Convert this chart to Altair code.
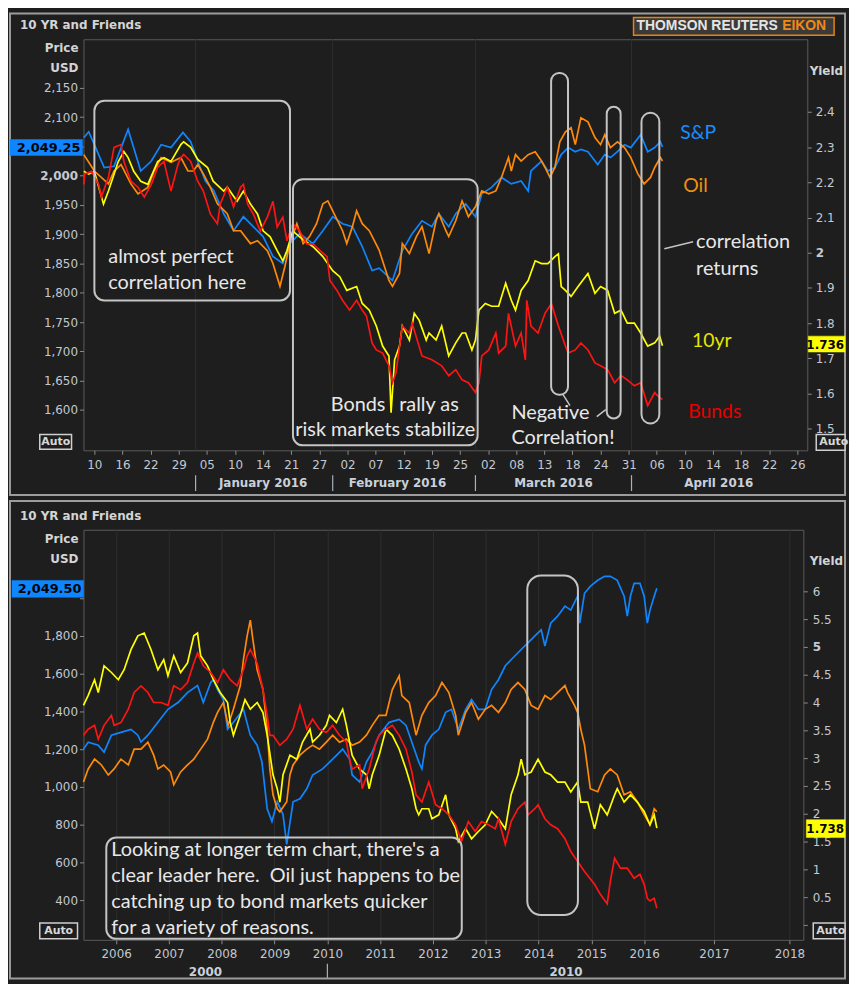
import altair as alt
import pandas as pd

# ---------------- Panel 1: Dec 2015 - Apr 2016 (x = trading-day index, 0 = 10 Dec) ----------------
p1_day_labels = ['10', '16', '22', '29', '05', '10', '14', '21', '27', '02', '07', '12', '19',
                 '25', '02', '08', '13', '18', '24', '31', '06', '10', '14', '18', '22', '26']
p1_month_labels = ['January 2016', 'February 2016', 'March 2016', 'April 2016']
p1_month_pos = [24.0, 43.1, 65.3, 88.8]
p1_month_sep = [14.4, 33.9, 54.2, 76.4]
p1_price_ticks = [1600, 1650, 1700, 1750, 1800, 1850, 1900, 1950, 2000, 2050, 2100, 2150]
p1_yield_ticks = [1.5, 1.6, 1.7, 1.8, 1.9, 2.0, 2.1, 2.2, 2.3, 2.4]

p1_spx_x = [-1.5, -0.8, 0.0, 1.4, 2.8, 4.8, 6.6, 8.1, 9.5, 10.9, 12.6, 13.7, 14.7, 15.8, 17.0,
            18.4, 19.8, 21.2, 22.6, 24.0, 25.4, 26.8, 27.8, 29.2, 31.1, 32.5, 33.9, 35.3, 36.7,
            38.1, 39.5, 40.5, 42.4, 43.8, 45.2, 46.6, 48.0, 49.0, 50.4, 51.4, 52.8, 54.2, 55.1,
            56.5, 57.9, 59.3, 60.7, 61.7, 62.1, 63.6, 64.5, 65.5, 66.4, 67.4, 68.4, 69.2, 70.2,
            71.6, 72.6, 73.4, 74.4, 75.4, 76.3, 77.7, 78.7, 79.7, 80.5, 80.8]
p1_spx = [2065, 2075, 2053, 2014, 2016, 2079, 2008, 2025, 2053, 2048, 2074, 2058, 2025, 1991, 1974,
          1935, 1906, 1930, 1913, 1896, 1862, 1850, 1884, 1901, 1884, 1906, 1930, 1918, 1913,
          1879, 1838, 1842, 1821, 1872, 1901, 1923, 1913, 1935, 1913, 1935, 1952, 1930, 1969,
          1980, 1997, 1986, 1991, 1974, 2008, 2025, 2008, 2014, 2036, 2048, 2041, 2045, 2041,
          2019, 2036, 2031, 2041, 2053, 2048, 2070, 2041, 2048, 2058, 2049]

p1_oil_x = [-1.5, 0.0, 2.0, 2.8, 3.8, 5.2, 6.2, 7.6, 8.5, 9.5, 10.9, 12.3, 13.3, 14.1, 14.7,
            15.5, 16.5, 17.5, 18.9, 19.8, 20.8, 22.2, 23.2, 24.6, 25.4, 26.4, 27.1, 27.8, 28.8,
            29.7, 30.6, 31.6, 32.5, 33.2, 33.9, 35.3, 35.9, 36.7, 37.3, 38.1, 39.1, 40.5, 41.9,
            42.4, 43.4, 43.8, 44.8, 45.8, 46.6, 47.6, 48.6, 49.0, 50.0, 50.4, 51.4, 52.3, 53.2,
            54.2, 55.1, 56.1, 57.1, 57.9, 58.9, 59.3, 59.9, 60.7, 61.7, 62.7, 63.6, 64.1, 64.8,
            65.5, 66.2, 67.0, 67.8, 68.4, 69.2, 70.2, 71.2, 72.0, 72.6, 73.4, 74.4, 75.4, 76.3,
            77.3, 78.2, 79.1, 79.7, 80.5, 80.8]
p1_oil = [2036, 2008, 1986, 2008, 2019, 1986, 1969, 1980, 2008, 2031, 2023, 2031, 2008, 2008, 2019,
          2003, 1980, 1952, 1935, 1906, 1906, 1884, 1889, 1872, 1850, 1811, 1845, 1884, 1918,
          1884, 1896, 1918, 1952, 1957, 1940, 1906, 1884, 1913, 1940, 1918, 1906, 1873, 1821,
          1811, 1833, 1884, 1867, 1896, 1913, 1867, 1923, 1935, 1906, 1896, 1923, 1957, 1930,
          1947, 1974, 1969, 1974, 1997, 2031, 2008, 2036, 2025, 2036, 2041, 2025, 2014, 1997,
          2014, 2058, 2075, 2082, 2053, 2099, 2092, 2065, 2053, 2070, 2048, 2058, 2048, 2031,
          2003, 1986, 1997, 2014, 2031, 2025]

p1_ust_x = [-1.5, -0.8, 0.0, 1.3, 2.0, 2.8, 3.4, 4.2, 4.8, 5.6,
            6.6, 7.6, 9.0, 9.9, 10.9, 12.3, 12.7, 13.7, 14.7, 16.1,
            16.9, 18.4, 18.9, 20.3, 21.2, 22.2, 23.2, 24.0, 25.0, 26.0,
            26.8, 27.4, 28.2, 29.2, 31.1, 32.5, 33.9, 34.9, 35.9, 37.3,
            38.1, 39.1, 40.1, 41.0, 41.9, 42.2, 42.7, 43.4, 43.8, 44.8,
            45.5, 46.2, 47.2, 47.6, 48.6, 49.4, 50.4, 51.4, 52.3, 52.8,
            53.7, 54.2, 54.7, 55.6, 56.5, 57.5, 58.5, 59.3, 59.9, 60.7,
            61.7, 62.7, 63.6, 64.5, 65.5, 66.0, 66.4, 67.0, 67.8, 68.8,
            70.2, 71.2, 72.0, 73.0, 74.0, 74.9, 75.8, 76.8, 77.7, 78.7,
            79.7, 80.4, 80.8]
p1_ust = [2.231, 2.223, 2.231, 2.138, 2.175, 2.223, 2.259, 2.287, 2.270, 2.231,
          2.203, 2.194, 2.259, 2.270, 2.259, 2.307, 2.315, 2.299, 2.265, 2.242,
          2.203, 2.175, 2.186, 2.146, 2.175, 2.138, 2.110, 2.062, 2.045, 2.006,
          1.977, 2.006, 2.062, 2.045, 2.017, 1.989, 1.949, 1.932, 1.893, 1.904,
          1.856, 1.837, 1.792, 1.735, 1.707, 1.546, 1.696, 1.735, 1.792, 1.752,
          1.828, 1.808, 1.752, 1.772, 1.752, 1.792, 1.707, 1.744, 1.772, 1.772,
          1.724, 1.752, 1.837, 1.856, 1.848, 1.848, 1.913, 1.865, 1.837, 1.893,
          1.921, 1.977, 1.969, 1.969, 1.989, 1.997, 1.904, 1.893, 1.876, 1.904,
          1.941, 1.885, 1.904, 1.893, 1.828, 1.837, 1.800, 1.800, 1.772, 1.735,
          1.744, 1.763, 1.736]

p1_bund_x = [-1.5, -1.4, -0.4, 0.6, 1.0, 2.0, 2.8, 3.8, 4.2, 5.2,
             6.2, 7.1, 8.1, 9.0, 9.9, 10.9, 11.9, 12.3, 12.7, 13.7,
             14.7, 15.5, 16.5, 17.5, 17.9, 18.9, 19.8, 20.8, 21.2, 21.8,
             22.6, 23.6, 24.6, 25.4, 26.0, 26.8, 27.4, 28.2, 29.2, 30.2,
             31.1, 32.1, 33.1, 33.5, 34.5, 35.3, 36.3, 37.3, 38.1, 38.7,
             39.5, 40.1, 41.0, 41.9, 42.4, 42.9, 43.8, 44.8, 45.2, 46.6,
             48.0, 49.4, 50.4, 51.4, 52.3, 53.2, 54.2, 54.7, 55.1, 56.1,
             57.1, 57.5, 58.5, 58.9, 59.9, 60.7, 61.3, 61.5, 62.1, 63.1,
             64.1, 65.0, 66.0, 67.0, 67.4, 68.4, 69.2, 70.2, 71.2, 72.0,
             73.0, 74.0, 74.9, 75.8, 76.8, 77.7, 78.7, 79.7, 80.1, 80.8]
p1_bund = [2.194, 2.223, 2.231, 2.194, 2.158, 2.214, 2.299, 2.307, 2.259, 2.203,
           2.186, 2.158, 2.194, 2.242, 2.259, 2.175, 2.251, 2.270, 2.279, 2.259,
           2.203, 2.175, 2.110, 2.082, 2.138, 2.186, 2.130, 2.186, 2.194, 2.138,
           2.110, 2.062, 2.101, 2.146, 2.073, 2.101, 2.034, 2.082, 2.062, 2.025,
           2.025, 2.006, 1.989, 1.921, 1.893, 1.865, 1.837, 1.865, 1.837, 1.820,
           1.744, 1.724, 1.715, 1.679, 1.631, 1.659, 1.792, 1.772, 1.800, 1.707,
           1.696, 1.679, 1.651, 1.668, 1.639, 1.631, 1.603, 1.631, 1.707, 1.724,
           1.772, 1.715, 1.735, 1.828, 1.735, 1.772, 1.696, 1.865, 1.792, 1.772,
           1.828, 1.856, 1.792, 1.735, 1.715, 1.724, 1.744, 1.724, 1.687, 1.679,
           1.668, 1.631, 1.651, 1.639, 1.622, 1.631, 1.566, 1.603, 1.594, 1.583]

# ---------------- Panel 2: 2005 - 2016 (x = fractional year) ----------------
p2_year_ticks = [2006, 2007, 2008, 2009, 2010, 2011, 2012, 2013, 2014, 2015, 2016, 2017, 2018]
p2_decade_labels = ['2000', '2010']
p2_decade_pos = [2007.69, 2014.52]
p2_decade_sep = [2010.0]
p2_price_ticks = [400, 600, 800, 1000, 1200, 1400, 1600, 1800, 2000]
p2_yield_ticks = [0, 0.5, 1, 1.5, 2, 2.5, 3, 3.5, 4, 4.5, 5, 5.5, 6]

p2_spx_x = [2005.38, 2005.47, 2005.66, 2005.77, 2005.91, 2006.09, 2006.28, 2006.41, 2006.47, 2006.60,
            2006.79, 2006.98, 2007.17, 2007.35, 2007.54, 2007.65, 2007.79, 2007.84, 2007.92, 2008.03,
            2008.11, 2008.22, 2008.41, 2008.54, 2008.67, 2008.76, 2008.86, 2008.95, 2009.05, 2009.16,
            2009.23, 2009.35, 2009.48, 2009.61, 2009.72, 2009.91, 2010.10, 2010.29, 2010.42, 2010.47,
            2010.61, 2010.74, 2010.85, 2010.98, 2011.17, 2011.36, 2011.49, 2011.60, 2011.73, 2011.79,
            2011.86, 2011.98, 2012.11, 2012.24, 2012.35, 2012.48, 2012.62, 2012.73, 2012.86, 2012.99,
            2013.11, 2013.24, 2013.37, 2013.48, 2013.61, 2013.74, 2013.80, 2013.93, 2014.05, 2014.12,
            2014.23, 2014.36, 2014.50, 2014.61, 2014.74, 2014.78, 2014.87, 2014.98, 2015.12, 2015.25,
            2015.36, 2015.49, 2015.62, 2015.68, 2015.74, 2015.81, 2015.92, 2016.00, 2016.06, 2016.11,
            2016.19, 2016.24]
p2_spx = [1200, 1237, 1221, 1184, 1274, 1289, 1305, 1274, 1237, 1274,
          1342, 1411, 1447, 1500, 1537, 1447, 1553, 1568, 1516, 1463,
          1305, 1342, 1411, 1274, 1221, 1132, 884, 816, 921, 853,
          695, 921, 937, 990, 1063, 1095, 1147, 1200, 1147, 1063,
          1026, 1132, 1184, 1274, 1342, 1358, 1326, 1237, 1132, 1095,
          1221, 1274, 1305, 1395, 1411, 1305, 1411, 1463, 1411, 1411,
          1516, 1568, 1642, 1674, 1711, 1747, 1763, 1800, 1832, 1747,
          1868, 1905, 1958, 1937, 2011, 1868, 2026, 2063, 2095, 2116,
          2116, 2095, 2011, 1905, 2011, 2079, 2079, 2011, 1868, 1937,
          2011, 2053]

p2_oil_x = [2005.38, 2005.47, 2005.59, 2005.72, 2005.85, 2005.96, 2006.09, 2006.23, 2006.34, 2006.47,
            2006.60, 2006.71, 2006.79, 2006.90, 2007.03, 2007.09, 2007.22, 2007.35, 2007.47, 2007.60,
            2007.73, 2007.84, 2007.92, 2008.03, 2008.12, 2008.22, 2008.35, 2008.41, 2008.48, 2008.54,
            2008.59, 2008.67, 2008.78, 2008.86, 2008.91, 2008.97, 2009.05, 2009.10, 2009.23, 2009.29,
            2009.35, 2009.48, 2009.61, 2009.72, 2009.85, 2009.98, 2010.10, 2010.23, 2010.36, 2010.47,
            2010.61, 2010.74, 2010.85, 2010.98, 2011.11, 2011.23,
            2011.36, 2011.41, 2011.55, 2011.68, 2011.79, 2011.92, 2012.05, 2012.17, 2012.30, 2012.43,
            2012.48, 2012.62, 2012.73, 2012.86, 2012.99, 2013.11, 2013.24, 2013.37, 2013.48, 2013.61,
            2013.74, 2013.86, 2013.99, 2014.12, 2014.23, 2014.36, 2014.50, 2014.55, 2014.68, 2014.74,
            2014.80, 2014.87, 2014.93, 2014.98, 2015.12, 2015.25, 2015.36, 2015.49, 2015.62, 2015.74,
            2015.87, 2016.00, 2016.11, 2016.19, 2016.24]
p2_oil = [1026, 1095, 1147, 1116, 1063, 1095, 1147, 1116, 1200, 1200,
          1237, 1168, 1095, 1116, 1079, 1011, 1079, 1116, 1147, 1200,
          1253, 1342, 1395, 1447, 1326, 1411, 1537, 1674, 1800, 1884,
          1779, 1621, 1516, 1305, 1095, 958, 884, 868, 921, 1063,
          1116, 1168, 1200, 1221, 1200, 1237, 1274, 1237, 1253, 1221,
          1237, 1274, 1326, 1379, 1379, 1516,
          1589, 1484, 1447, 1274, 1379, 1447, 1484, 1553, 1500, 1379,
          1274, 1395, 1447, 1358, 1411, 1432, 1395, 1447, 1516, 1553,
          1516, 1432, 1411, 1484, 1463, 1500, 1537, 1500, 1432, 1395,
          1305, 1221, 1095, 990, 974, 1063, 1095, 1063, 958, 974,
          921, 853, 800, 884, 868]

p2_ust_x = [2005.38, 2005.47, 2005.59, 2005.66, 2005.77, 2005.91, 2006.04, 2006.15, 2006.28, 2006.41,
            2006.53, 2006.66, 2006.79, 2006.90, 2006.98, 2007.09, 2007.22, 2007.35, 2007.47, 2007.54,
            2007.60, 2007.73, 2007.84, 2007.97, 2008.11, 2008.16, 2008.22, 2008.35, 2008.44, 2008.54,
            2008.67, 2008.78, 2008.86, 2008.97, 2009.05, 2009.10, 2009.16, 2009.29, 2009.42, 2009.53,
            2009.67, 2009.72, 2009.85, 2009.98, 2010.04, 2010.17, 2010.29, 2010.36, 2010.42, 2010.47,
            2010.61, 2010.74, 2010.79, 2010.85, 2010.98, 2011.11, 2011.23,
            2011.36, 2011.49, 2011.60, 2011.68, 2011.73, 2011.79, 2011.92, 2011.98, 2012.11, 2012.24,
            2012.30, 2012.43, 2012.48, 2012.62, 2012.73, 2012.86, 2012.99, 2013.11, 2013.24, 2013.37,
            2013.48, 2013.61, 2013.67, 2013.74, 2013.86, 2013.99, 2014.12, 2014.23, 2014.36, 2014.50,
            2014.61, 2014.74, 2014.80, 2014.93, 2015.06, 2015.17, 2015.30, 2015.44, 2015.49, 2015.62,
            2015.74, 2015.87, 2016.00, 2016.11, 2016.19, 2016.24]
p2_ust = [3.95, 4.13, 4.41, 4.18, 4.66, 4.54, 4.41, 4.59, 4.95, 5.20,
          5.25, 4.95, 4.59, 4.77, 4.48, 4.84, 4.54, 4.71, 5.20, 5.25,
          4.84, 4.66, 4.41, 4.18, 4.00, 3.64, 3.41, 3.77, 4.05, 3.88,
          4.00, 3.82, 3.41, 2.70, 2.45, 2.21, 2.70, 3.05, 2.98, 3.29,
          3.52, 3.29, 3.41, 3.59, 3.77, 3.64, 3.88, 3.59, 3.29, 3.05,
          2.80, 2.70, 2.45, 2.70, 3.05, 3.52, 3.41,
          3.16, 2.80, 2.45, 2.09, 1.98, 2.09, 2.09, 1.91, 1.98, 2.34,
          1.98, 1.73, 1.50, 1.73, 1.55, 1.68, 1.80, 2.04, 1.91, 1.73,
          2.34, 2.70, 2.98, 2.70, 2.75, 2.98, 2.75, 2.70, 2.57, 2.57,
          2.39, 2.57, 2.21, 2.21, 1.73, 2.16, 1.98, 2.34, 2.45, 2.21,
          2.34, 2.21, 2.04, 1.80, 1.98, 1.74]

p2_bund_x = [2005.38, 2005.47, 2005.59, 2005.66, 2005.77, 2005.91, 2005.96, 2006.09, 2006.23, 2006.34,
             2006.47, 2006.60, 2006.71, 2006.85, 2006.98, 2007.09, 2007.22, 2007.35, 2007.47, 2007.54,
             2007.65, 2007.79, 2007.92, 2008.03, 2008.16, 2008.29, 2008.41, 2008.48, 2008.54, 2008.67,
             2008.78, 2008.86, 2008.91, 2008.97, 2009.10, 2009.23, 2009.35, 2009.48, 2009.61, 2009.72,
             2009.85, 2009.98, 2010.10, 2010.23, 2010.36, 2010.42, 2010.47, 2010.61, 2010.66, 2010.79,
             2010.92, 2010.98, 2011.11, 2011.23,
             2011.36, 2011.49, 2011.60, 2011.68, 2011.79, 2011.92, 2012.05, 2012.17, 2012.30, 2012.43,
             2012.54, 2012.67, 2012.80, 2012.92, 2013.05, 2013.18, 2013.24, 2013.37, 2013.48, 2013.61,
             2013.74, 2013.80, 2013.93, 2013.99, 2014.12, 2014.23, 2014.36, 2014.50, 2014.61, 2014.74,
             2014.87, 2015.06, 2015.17, 2015.30, 2015.36, 2015.44, 2015.55, 2015.68, 2015.81, 2015.92,
             2016.00, 2016.06, 2016.11, 2016.19, 2016.24]
p2_bund = [3.41, 3.52, 3.59, 3.34, 3.59, 3.77, 3.59, 3.64, 3.88, 4.18,
           4.30, 4.18, 4.00, 4.00, 3.95, 4.30, 4.23, 4.36, 4.71, 4.89,
           4.66, 4.54, 4.36, 4.59, 4.41, 4.30, 4.59, 4.84, 4.95, 4.71,
           4.23, 3.77, 3.41, 3.41, 3.23, 3.34, 3.52, 3.95, 3.52, 3.70,
           3.52, 3.46, 3.59, 3.41, 3.29, 2.98, 2.80, 2.88, 2.45, 2.80,
           3.29, 3.41, 3.52, 3.59,
           3.41, 3.16, 2.75, 2.34, 2.21, 2.57, 2.16, 2.09, 1.98, 1.80,
           1.50, 1.86, 1.68, 1.86, 1.80, 1.73, 1.91, 1.45, 1.86, 2.09,
           2.21, 1.98, 2.09, 2.16, 1.91, 1.80, 1.73, 1.55, 1.32, 1.14,
           0.96, 0.73, 0.55, 0.38, 0.79, 1.20, 1.02, 1.02, 0.84, 0.91,
           0.73, 0.48, 0.43, 0.48, 0.30]

# ---------------- styling ----------------
BLUE = '#0f86ff'
ORANGE = '#ff8a0a'
YELLOW = '#ffff00'
RED = '#ff1414'
BG = '#1e1e1e'
FRAME = '#9c9c9c'
BOX = '#c4c4c4'
NOTE = '#e8e8e8'
TICKLAB = '#c3c9d2'
AXIS_FONT = 'DejaVu Sans'
NOTE_FONT = 'Lato'
NOTE_SIZE = 20
SER_SIZE = 19.5

one = pd.DataFrame({'k': [0]})


def rect(x1, y1, x2, y2, stroke=BOX, fill='transparent', sw=2.0, r=0):
    return alt.Chart(one).mark_rect(fill=fill, stroke=stroke, strokeWidth=sw, cornerRadius=r).encode(
        x=alt.value(x1), x2=alt.value(x2), y=alt.value(y1), y2=alt.value(y2))


def label(x, y, s, color=NOTE, size=NOTE_SIZE, weight='normal', align='left', font=NOTE_FONT):
    return alt.Chart(one).mark_text(text=s, color=color, fontSize=size, fontWeight=weight,
                                    align=align, baseline='middle', font=font).encode(
        x=alt.value(x), y=alt.value(y))


def seg(x1, y1, x2, y2, color=BOX, sw=1.5):
    return alt.Chart(one).mark_rule(color=color, strokeWidth=sw).encode(
        x=alt.value(x1), y=alt.value(y1), x2=alt.value(x2), y2=alt.value(y2))


def series(xs, vs, color, xenc, yenc):
    df = pd.DataFrame({'x': xs, 'v': vs})
    return alt.Chart(df).mark_line(color=color, strokeWidth=1.7).encode(x=xenc, y=yenc)


def bold_at(v):
    return {"condition": {"test": "datum.value == %s" % v, "value": "bold"}, "value": "normal"}


def common():
    return dict(title=None, grid=False, domain=False, tickColor='#8c8c8c', labelColor=TICKLAB,
                labelFont=AXIS_FONT, labelFontSize=12)


def header(yield_label_y):
    return [
        label(-64, -14, '10 YR and Friends', color='#d4d4d4', size=12, weight='bold', font=AXIS_FONT),
        label(-5, 9, 'Price', color='#d4d4d4', size=12, weight='bold', align='right', font=AXIS_FONT),
        label(-5, 29, 'USD', color='#d4d4d4', size=12, weight='bold', align='right', font=AXIS_FONT),
        label(765, yield_label_y, 'Yield', color='#d4d4d4', size=12, weight='bold', align='right', font=AXIS_FONT),
    ]


# ---------------- panel 1 ----------------
W1, H1 = 729, 414
p1_tick_pos = [4 * i for i in range(len(p1_day_labels))]
p1_expr = "[" + ",".join("'%s'" % s for s in p1_day_labels) + "][round(datum.value / 4)]"

x1 = alt.X('x:Q', scale=alt.Scale(domain=[-1.55, 101.4], nice=False, zero=False),
           axis=alt.Axis(values=p1_tick_pos, labelExpr=p1_expr, tickSize=4, labelPadding=5, **common()))
yL1 = alt.Y('v:Q', scale=alt.Scale(domain=[1531, 2233], nice=False, zero=False),
            axis=alt.Axis(orient='left', values=p1_price_ticks,
                          labelExpr="datum.value == 2050 ? '' : format(datum.value, ',d')",
                          tickSize=4, labelPadding=2, labelFontWeight=bold_at(2000), **common()))
yR1 = alt.Y('v:Q', scale=alt.Scale(domain=[1.439, 2.606], nice=False, zero=False),
            axis=alt.Axis(orient='right', values=p1_yield_ticks, format='.1~f', tickSize=4, labelPadding=4,
                          labelFontWeight=bold_at(2), **common()))

left1 = alt.layer(series(p1_spx_x, p1_spx, BLUE, x1, yL1), series(p1_oil_x, p1_oil, ORANGE, x1, yL1))
right1 = alt.layer(series(p1_ust_x, p1_ust, YELLOW, x1, yR1), series(p1_bund_x, p1_bund, RED, x1, yR1))

sep_df1 = pd.DataFrame({'x': p1_month_sep})
grid1 = alt.Chart(sep_df1).mark_rule(color='#2e2e2e', strokeWidth=1).encode(x=x1, y=alt.value(0), y2=alt.value(H1))
msep1 = alt.Chart(sep_df1).mark_rule(color='#a8b0ba', strokeWidth=1.2).encode(x=x1, y=alt.value(439), y2=alt.value(455))
mlab1 = alt.Chart(pd.DataFrame({'x': p1_month_pos, 'label': p1_month_labels})).mark_text(
    font=AXIS_FONT, fontSize=12, fontWeight='bold', color='#c8d0da', baseline='middle').encode(
    x=x1, y=alt.value(447), text='label:N')

notes1 = header(32) + [
    rect(-74, -26, 767, 459, stroke=FRAME, sw=2),
    # logo
    rect(554, -22, 756, -4, stroke='#e8820c', fill='#3a3a3a', sw=1.5),
    label(557, -13, 'THOMSON REUTERS', color='#e4e4e4', size=14, weight='bold', font='Liberation Sans'),
    label(748, -13, 'EIKON', color='#f08a14', size=14, weight='bold', align='right', font='Liberation Sans'),
    # annotation boxes
    rect(11, 62, 208, 263, r=10),
    label(25, 219, 'almost perfect'),
    label(25, 246, 'correlation here'),
    rect(211, 141, 397, 409, r=10),
    label(249, 368, 'Bonds'),
    label(318, 368, 'rally as'),
    label(304, 394, 'risk markets stabilize', align='center'),
    rect(471, 34, 488, 358, r=8),
    rect(527, 68, 541, 382, r=7),
    rect(562, 74, 580, 387, r=9),
    seg(483, 358, 490, 369),
    seg(517, 380, 526, 373),
    label(431, 376, 'Negative'),
    label(431, 402, 'Correlation!'),
    seg(585, 211, 614, 204),
    label(617, 204, 'correlation'),
    label(617, 231, 'returns'),
    label(601, 94, 'S&P', color='#1a8cff', size=SER_SIZE),
    label(604, 148, 'Oil', color='#f0900f', size=SER_SIZE),
    label(613, 304, '10yr', color='#e6e600', size=SER_SIZE),
    label(609, 375, 'Bunds', color='#e60000', size=SER_SIZE),
    # value flags
    rect(-74, 101, -1, 117, stroke=BLUE, fill=BLUE, sw=0.5),
    label(-3, 109.5, '2,049.25', color='#050505', size=13, weight='bold', align='right', font=AXIS_FONT),
    rect(730, 299, 767, 315, stroke=YELLOW, fill=YELLOW, sw=0.5),
    label(766, 307.5, '1.736', color='#050505', size=12, weight='bold', align='right', font=AXIS_FONT),
    # Auto buttons
    rect(-44, 398, -12, 413, stroke='#cfcfcf', fill=BG, sw=1.5),
    label(-28, 405.5, 'Auto', color='#d8d8d8', size=11, weight='bold', align='center', font=AXIS_FONT),
    rect(738, 398, 767, 414, stroke='#cfcfcf', fill=BG, sw=1.5),
    label(741, 406, 'Auto', color='#d8d8d8', size=11, weight='bold', font=AXIS_FONT),
]

panel1 = alt.layer(grid1, left1, right1, msep1, mlab1, *notes1).resolve_scale(y='independent').properties(
    width=W1, height=H1)

# ---------------- panel 2 ----------------
W2, H2 = 725, 413
x2 = alt.X('x:Q', scale=alt.Scale(domain=[2005.38, 2016.25, 2017, 2018, 2018.18],
                                  range=[0, 578, 635, 711, W2], nice=False, zero=False),
           axis=alt.Axis(values=p2_year_ticks, format='d', tickSize=4, labelPadding=5,
                         title=None, grid=True, gridColor='#2e2e2e', domain=False, tickColor='#8c8c8c',
                         labelColor=TICKLAB, labelFont=AXIS_FONT, labelFontSize=12))
yL2 = alt.Y('v:Q', scale=alt.Scale(domain=[189, 2363], nice=False, zero=False),
            axis=alt.Axis(orient='left', values=p2_price_ticks,
                          labelExpr="datum.value == 2000 ? '' : format(datum.value, ',d')",
                          tickSize=4, labelPadding=2, **common()))
yR2 = alt.Y('v:Q', scale=alt.Scale(domain=[-0.268, 7.107], nice=False, zero=False),
            axis=alt.Axis(orient='right', values=p2_yield_ticks,
                          labelExpr="datum.value == 0 ? '' : format(datum.value, '.1~f')",
                          tickSize=4, labelPadding=5, labelFontWeight=bold_at(5), **common()))

left2 = alt.layer(series(p2_spx_x, p2_spx, BLUE, x2, yL2), series(p2_oil_x, p2_oil, ORANGE, x2, yL2))
right2 = alt.layer(series(p2_ust_x, p2_ust, YELLOW, x2, yR2), series(p2_bund_x, p2_bund, RED, x2, yR2))

dsep2 = alt.Chart(pd.DataFrame({'x': p2_decade_sep})).mark_rule(color='#a8b0ba', strokeWidth=1.2).encode(
    x=x2, y=alt.value(437), y2=alt.value(452))
dlab2 = alt.Chart(pd.DataFrame({'x': p2_decade_pos, 'label': p2_decade_labels})).mark_text(
    font=AXIS_FONT, fontSize=12, fontWeight='bold', color='#c8d0da', baseline='middle').encode(
    x=x2, y=alt.value(445), text='label:N')

notes2 = header(31) + [
    rect(-74, -29, 767, 452, stroke=FRAME, sw=2),
    rect(447, 46, 498, 388, r=14),
    rect(23, 310, 381, 412, r=10),
    label(28, 323, "Looking at longer term chart, there's a"),
    label(28, 349, 'clear leader here.\u00a0 Oil just happens to be'),
    label(28, 375, 'catching up to bond markets quicker'),
    label(28, 401, 'for a variety of reasons.'),
    rect(-72, 51, 0, 68, stroke=BLUE, fill=BLUE, sw=0.5),
    label(-2, 60, '2,049.50', color='#050505', size=13, weight='bold', align='right', font=AXIS_FONT),
    rect(728, 292, 767, 310, stroke=YELLOW, fill=YELLOW, sw=0.5),
    label(766, 301.5, '1.738', color='#050505', size=12, weight='bold', align='right', font=AXIS_FONT),
    rect(-44, 396, -6, 412, stroke='#cfcfcf', fill=BG, sw=1.5),
    label(-25, 404, 'Auto', color='#d8d8d8', size=11, weight='bold', align='center', font=AXIS_FONT),
    rect(735, 396, 767, 412, stroke='#cfcfcf', fill=BG, sw=1.5),
    label(738, 404, 'Auto', color='#d8d8d8', size=11, weight='bold', font=AXIS_FONT),
]

panel2 = alt.layer(left2, right2, dsep2, dlab2, *notes2).resolve_scale(y='independent').properties(
    width=W2, height=H2)

chart = alt.vconcat(panel1, panel2, spacing=2).properties(background=BG, padding=0).configure_view(
    stroke='#5b5b5b', strokeWidth=1)

chart.save("out.html", embed_options={"renderer": "svg", "actions": False})
